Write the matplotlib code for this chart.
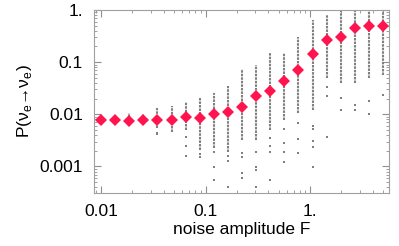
import numpy as np
import matplotlib
matplotlib.use('Agg')
import matplotlib.pyplot as plt
from matplotlib.ticker import FixedLocator, FixedFormatter, LogLocator, NullFormatter

plt.rcParams['font.family'] = ['Liberation Sans', 'DejaVu Sans']
plt.rcParams['mathtext.fontset'] = 'custom'
plt.rcParams['mathtext.rm'] = 'Liberation Sans'

# noise amplitudes
F = [0.01, 0.01364, 0.01862, 0.0254, 0.0347, 0.0473, 0.0645, 0.0880, 0.1201, 0.1639,
     0.2236, 0.3051, 0.4163, 0.568, 0.775, 1.057, 1.443, 1.968, 2.686, 3.665, 5.0]
# averaged survival probability (red diamonds)
P_mean = [0.0077, 0.0077, 0.0076, 0.0079, 0.0079, 0.0079, 0.0089, 0.0086, 0.0103, 0.011,
          0.0137, 0.0225, 0.0284, 0.043, 0.071, 0.142, 0.27, 0.31, 0.45, 0.50, 0.49]
# dense part of the single realisations (gray streaks)
P_lo = [0.0072, 0.0072, 0.0065, 0.0063, 0.0055, 0.0046, 0.0050, 0.0021, 0.0023, 0.0019,
        0.0032, 0.0032, 0.0050, 0.0078, 0.0105, 0.012, 0.050, 0.040, 0.040, 0.050, 0.057]
P_hi = [0.0085, 0.0085, 0.0105, 0.0101, 0.0133, 0.0145, 0.0173, 0.021, 0.0255, 0.035,
        0.074, 0.088, 0.15, 0.15, 0.30, 0.64, 0.80, 1.0, 1.0, 1.0, 1.0]
# isolated realisations
P_out = [[], [], [], [], [0.0044, 0.0042], [], [0.0036, 0.0025, 0.0016],
         [0.0017, 0.0015], [0.0019, 0.00098, 0.00055], [0.0016, 0.0013, 0.00041],
         [0.0018, 0.0015, 0.00075, 0.00060], [0.0019, 0.00098, 0.00085, 0.00041],
         [0.0035, 0.0025, 0.0019, 0.00055], [0.0052, 0.0028, 0.0019, 0.0012],
         [0.0068, 0.0034, 0.0018], [0.006, 0.0052, 0.0031, 0.0024, 0.00098],
         [0.034, 0.022, 0.0037], [0.021, 0.012], [0.015, 0.012], [0.018, 0.010], [0.0235]]

fig = plt.figure(figsize=(3.99, 2.46), dpi=100)
ax = fig.add_axes([0.2356, 0.2154, 0.7394, 0.7439])

gray = '#808080'
ax.vlines(F, P_lo, P_hi, colors=gray, linewidth=1.5, linestyles=(0, (1.2, 0.5)), zorder=2)
for f, outs in zip(F, P_out):
    ax.plot([f] * len(outs), outs, 's', color=gray, markersize=1.8, markeredgewidth=0, zorder=2)
ax.plot(F, P_mean, 'D', color='#ff1450', markersize=6.5, markeredgewidth=0, zorder=3)

ax.set_xscale('log')
ax.set_yscale('log')
ax.set_xlim(0.00857, 5.7)
ax.set_ylim(3.1e-4, 1.0)

ax.xaxis.set_major_locator(FixedLocator([0.01, 0.1, 1.0]))
ax.xaxis.set_major_formatter(FixedFormatter(['0.01', '0.1', '1.']))
ax.yaxis.set_major_locator(FixedLocator([0.001, 0.01, 0.1, 1.0]))
ax.yaxis.set_major_formatter(FixedFormatter(['0.001', '0.01', '0.1', '1.']))
for a in (ax.xaxis, ax.yaxis):
    a.set_minor_locator(LogLocator(base=10, subs=np.arange(2, 10), numticks=20))
    a.set_minor_formatter(NullFormatter())

ax.tick_params(which='both', direction='in', top=True, right=True, color='#909090',
               labelsize=12.5, pad=8)
ax.tick_params(which='major', length=5, width=0.8)
ax.tick_params(which='minor', length=2.5, width=0.6)
for s in ax.spines.values():
    s.set_color('#a0a0a0')
    s.set_linewidth(0.8)

ax.set_xlabel('noise amplitude F', fontsize=12.5, labelpad=2)
ax.set_ylabel(r'P(ν$_\mathregular{e}$→ν$_\mathregular{e}$)', fontsize=12.5, labelpad=4)

fig.savefig('out.png', dpi=100)
